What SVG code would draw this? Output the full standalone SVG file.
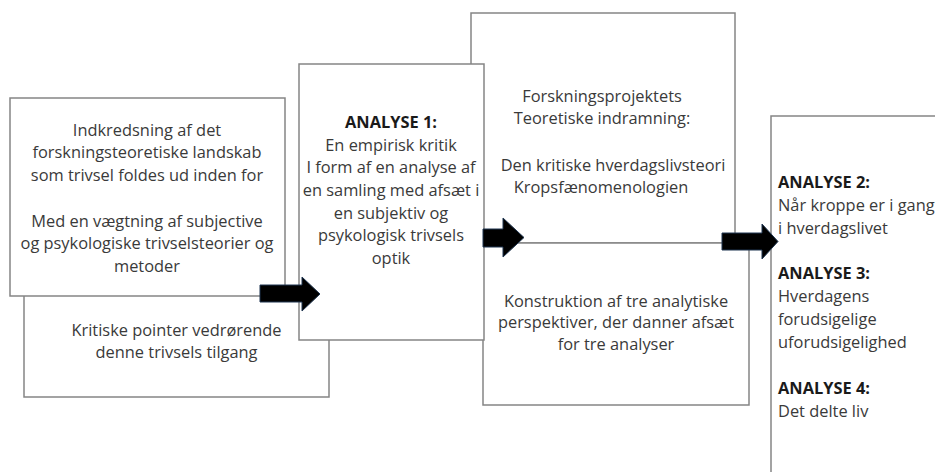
<svg xmlns="http://www.w3.org/2000/svg" width="935" height="472" viewBox="0 0 935 472">
<style>
.box{fill:#fff;stroke:#858585;stroke-width:1.5}
.t{font-family:"Open Sans","Liberation Sans",sans-serif;font-size:16.4px;fill:#3a3a3a}
.c{text-anchor:middle}
.b{font-weight:bold;fill:#1a1a1a}
.arr{fill:#000;stroke:#1f3550;stroke-width:1}
</style>
<rect width="935" height="472" fill="#fff"/>
<g id="node-kritiske">
<rect class="box" x="24" y="290" width="305" height="107"/>
<text class="t c" x="176.5" y="336">Kritiske pointer vedrørende</text>
<text class="t c" x="176.5" y="358">denne trivsels tilgang</text>
</g>
<g id="node-indkredsning">
<rect class="box" x="10" y="98" width="275" height="198"/>
<text class="t c" x="147" y="136">Indkredsning af det</text>
<text class="t c" x="147" y="158">forskningsteoretiske landskab</text>
<text class="t c" x="147" y="181">som trivsel foldes ud inden for</text>
<text class="t c" x="147" y="227">Med en vægtning af subjective</text>
<text class="t c" x="147" y="249">og psykologiske trivselsteorier og</text>
<text class="t c" x="147" y="272">metoder</text>
</g>
<g id="node-teoretisk">
<rect class="box" x="471" y="13" width="264" height="230"/>
<text class="t c" x="602" y="102">Forskningsprojektets</text>
<text class="t c" x="602" y="124">Teoretiske indramning:</text>
<text class="t c" x="613" y="171">Den kritiske hverdagslivsteori</text>
<text class="t c" x="601" y="193">Kropsfænomenologien</text>
</g>
<g id="node-konstruktion">
<rect class="box" x="483" y="243" width="266" height="162"/>
<text class="t c" x="616" y="307">Konstruktion af tre analytiske</text>
<text class="t c" x="616" y="328">perspektiver, der danner afsæt</text>
<text class="t c" x="616" y="350">for tre analyser</text>
</g>
<g id="node-analyse1">
<rect class="box" x="299" y="64" width="185" height="276"/>
<text class="t c b" x="391" y="128">ANALYSE 1:</text>
<text class="t c" x="391" y="151">En empirisk kritik</text>
<text class="t c" x="391" y="173">I form af en analyse af</text>
<text class="t c" x="391" y="196">en samling med afsæt i</text>
<text class="t c" x="391" y="219">en subjektiv og</text>
<text class="t c" x="391" y="241">psykologisk trivsels</text>
<text class="t c" x="391" y="264">optik</text>
</g>
<g id="node-analyser">
<rect class="box" x="771" y="116" width="180" height="370"/>
<text class="t b" x="778" y="188">ANALYSE 2:</text>
<text class="t" x="778" y="211">Når kroppe er i gang</text>
<text class="t" x="778" y="234">i hverdagslivet</text>
<text class="t b" x="778" y="279">ANALYSE 3:</text>
<text class="t" x="778" y="302">Hverdagens</text>
<text class="t" x="778" y="325">forudsigelige</text>
<text class="t" x="778" y="348">uforudsigelighed</text>
<text class="t b" x="778" y="394">ANALYSE 4:</text>
<text class="t" x="778" y="417">Det delte liv</text>
</g>
<g id="connectors">
<polygon class="arr" points="260,285 302,285 302,277 320,294 302,311 302,302 260,302"/>
<polygon class="arr" points="483,229 503,229 503,218 524,237.5 503,257 503,247 483,247"/>
<polygon class="arr" points="722,233 762,233 762,224 778,241.5 762,259 762,250 722,250"/>
</g>
</svg>
